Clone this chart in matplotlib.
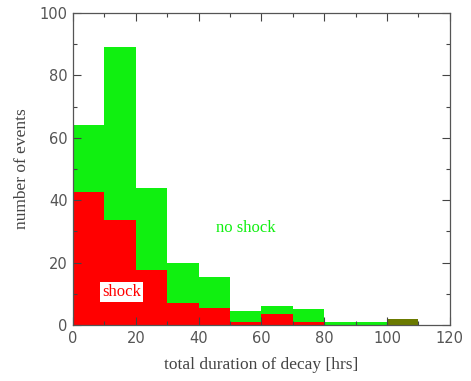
import matplotlib.pyplot as plt
import numpy as np
from matplotlib.ticker import MultipleLocator

RED = "#ff0000"
GREEN = "#10f010"
OLIVE = "#6b7a00"

# bin left edges (hrs) and counts
bin_edges = [0, 10, 20, 30, 40, 50, 60, 70, 80, 90, 100]
total_events = [64, 89, 44, 20, 15.5, 4.5, 6, 5, 1, 1, 2]
shock_events = [42.5, 33.5, 17.5, 7, 5.5, 1, 3.5, 1, 0, 0, 2]
shock_colors = [RED] * 10 + [OLIVE]

fig = plt.figure(figsize=(4.71, 3.81), dpi=100)
ax = fig.add_axes([0.155, 0.147, 0.8, 0.819])

# no shock on top of shock -> draw total in green, shock in red over it
ax.bar(bin_edges, total_events, width=10, align='edge', color=GREEN, linewidth=0)
ax.bar(bin_edges, shock_events, width=10, align='edge', color=shock_colors, linewidth=0)

ax.set_xlim(0, 120)
ax.set_ylim(0, 100)
ax.xaxis.set_major_locator(MultipleLocator(20))
ax.xaxis.set_minor_locator(MultipleLocator(10))
ax.yaxis.set_major_locator(MultipleLocator(20))
ax.yaxis.set_minor_locator(MultipleLocator(10))
ax.tick_params(which='both', direction='in', top=True, right=True, width=0.8, color='#444444')
ax.tick_params(which='major', length=6, pad=4)
ax.tick_params(which='minor', length=3)
for lab in ax.get_xticklabels() + ax.get_yticklabels():
    lab.set_fontsize(10.5)
    lab.set_color('#555555')
for s in ax.spines.values():
    s.set_color('#555555')
    s.set_linewidth(0.9)

ax.set_xlabel("total duration of decay [hrs]", fontsize=12.5, family='Liberation Serif', color='#444444', labelpad=8)
ax.set_ylabel("number of events", fontsize=12.5, family='Liberation Serif', color='#444444', labelpad=7)

ax.text(55, 31, "no shock", color=GREEN, fontsize=12, family='Liberation Serif', ha='center', va='center')
ax.text(15.5, 10.5, "shock", color=RED, fontsize=12, family='Liberation Serif', ha='center', va='center',
        bbox=dict(facecolor='white', edgecolor='none', pad=1.5))

plt.savefig("out.png", dpi=100)
